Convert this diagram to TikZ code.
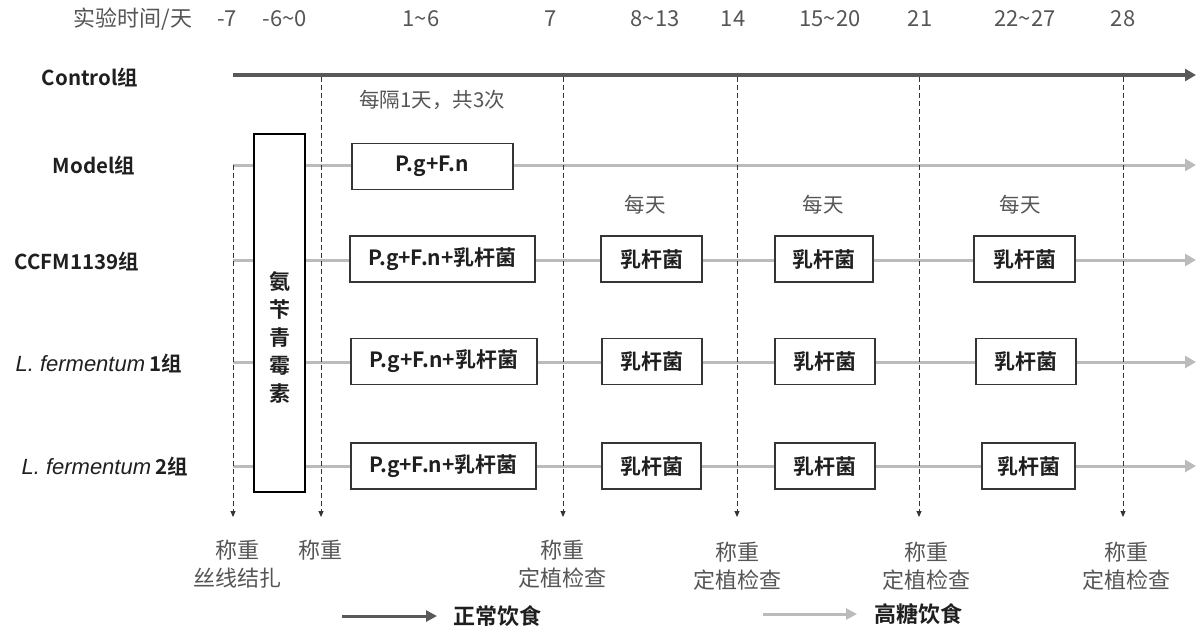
\documentclass[tikz,border=0pt]{standalone}
\usepackage{fontspec}
\setmainfont{Noto Sans CJK SC}[BoldFont={Noto Sans CJK SC Bold}]
\newfontfamily\latinit{Liberation Sans}
\usetikzlibrary{arrows.meta}
\definecolor{darkline}{HTML}{595959}
\definecolor{lightline}{HTML}{BBBBBB}
\definecolor{graytxt}{HTML}{555555}
\definecolor{ink}{HTML}{1F1F1F}
\begin{document}
\begin{tikzpicture}[x=1pt,y=-1pt,
  toplbl/.style={text=graytxt,font=\fontsize{22}{26}\selectfont,inner sep=0pt},
  rowlbl/.style={text=ink,font=\fontsize{20.5}{24}\selectfont\bfseries,inner sep=0pt},
  boxnode/.style={draw=ink!90,line width=1.2pt,fill=white,minimum height=46pt,inner sep=0pt,text=ink,font=\fontsize{21}{25}\selectfont\bfseries},
  notelbl/.style={text=graytxt,font=\fontsize{20.5}{24}\selectfont,inner sep=0pt},
  botlbl/.style={text=graytxt,font=\fontsize{22}{28}\selectfont,inner sep=0pt,align=center},
  legtxt/.style={text=ink,font=\fontsize{22}{26}\selectfont\bfseries,inner sep=0pt},
  darkarrow/.style={draw=darkline,line width=3.5pt,-{Triangle[length=11pt,width=12pt]}},
  lightarrow/.style={draw=lightline,line width=3pt,-{Triangle[length=11pt,width=12pt]}},
  dasharrow/.style={draw=ink!90,line width=0.9pt,dash pattern=on 5pt off 3pt,-{Triangle[length=6pt,width=5pt]}}
]
\useasboundingbox (0,0) rectangle (1198,633);

% top time labels
\node[toplbl] (t0) at (133,19) {实验时间/天};
\node[toplbl] (t1) at (227,19) {-7};
\node[toplbl] (t2) at (285,19) {-6\textasciitilde 0};
\node[toplbl] (t3) at (421,19) {1\textasciitilde 6};
\node[toplbl] (t4) at (551,19) {7};
\node[toplbl] (t5) at (655,19) {8\textasciitilde 13};
\node[toplbl] (t6) at (733,19) {14};
\node[toplbl] (t7) at (830,19) {15\textasciitilde 20};
\node[toplbl] (t8) at (920,19) {21};
\node[toplbl] (t9) at (1025,19) {22\textasciitilde 27};
\node[toplbl] (t10) at (1123,19) {28};

% row labels
\node[rowlbl] (rc) at (90,77) {Control组};
\node[rowlbl] (rm) at (94,165) {Model组};
\node[rowlbl] (rcc) at (77,261) {CCFM1139组};
\node[rowlbl] (rl1) at (99,363) {{\latinit\itshape\mdseries\fontsize{22}{26}\selectfont L. fermentum} 1组};
\node[rowlbl] (rl2) at (105,466) {{\latinit\itshape\mdseries\fontsize{22}{26}\selectfont L. fermentum} 2组};

% row line coordinates
\coordinate (cs) at (233,75);  \coordinate (ce) at (1196,75);
\coordinate (ms) at (233,165); \coordinate (me) at (1196,165);
\coordinate (c2s) at (233,260); \coordinate (c2e) at (1196,260);
\coordinate (l1s) at (233,362); \coordinate (l1e) at (1196,362);
\coordinate (l2s) at (233,466); \coordinate (l2e) at (1196,466);

\draw[lightarrow] (ms) -- (me);
\draw[lightarrow] (c2s) -- (c2e);
\draw[lightarrow] (l1s) -- (l1e);
\draw[lightarrow] (l2s) -- (l2e);
\draw[darkarrow] (cs) -- (ce);

% dashed timeline arrows
\coordinate (d1t) at (233,165); \coordinate (d1b) at (233,517);
\coordinate (d2t) at (321,77);  \coordinate (d2b) at (321,517);
\coordinate (d3t) at (563,77);  \coordinate (d3b) at (563,517);
\coordinate (d4t) at (737,77);  \coordinate (d4b) at (737,517);
\coordinate (d5t) at (919,77);  \coordinate (d5b) at (919,517);
\coordinate (d6t) at (1123,77); \coordinate (d6b) at (1123,517);
\foreach \i in {1,...,6} {\draw[dasharrow] (d\i t) -- (d\i b);}

% antibiotic box
\node[draw=black,line width=2pt,fill=white,minimum width=51pt,minimum height=358pt,inner sep=0pt] (abx) at (279.5,313) {};
\node[text=ink,font=\fontsize{21}{28}\selectfont\bfseries,align=center,inner sep=0pt] (abxt) at (280,337) {氨\\苄\\青\\霉\\素};

% notes
\node[notelbl] (n1) at (432,100) {每隔1天，共3次};
\node[notelbl] (n2) at (645,205) {每天};
\node[notelbl] (n3) at (823,205) {每天};
\node[notelbl] (n4) at (1020,205) {每天};

% boxes
\node[boxnode,minimum width=161pt] (bm) at (432.5,166.5) {P.g+F.n};
\node[boxnode,minimum width=185pt] (bc1) at (442.5,259) {P.g+F.n+乳杆菌};
\node[boxnode,minimum width=101pt] (bc2) at (651.5,259) {乳杆菌};
\node[boxnode,minimum width=98pt] (bc3) at (824,259) {乳杆菌};
\node[boxnode,minimum width=101pt] (bc4) at (1024.5,259) {乳杆菌};
\node[boxnode,minimum width=186pt] (bl11) at (444,361.5) {P.g+F.n+乳杆菌};
\node[boxnode,minimum width=100pt] (bl12) at (652,361.5) {乳杆菌};
\node[boxnode,minimum width=100pt] (bl13) at (825,361.5) {乳杆菌};
\node[boxnode,minimum width=100pt] (bl14) at (1026,361.5) {乳杆菌};
\node[boxnode,minimum width=185pt] (bl21) at (443.5,466) {P.g+F.n+乳杆菌};
\node[boxnode,minimum width=99pt] (bl22) at (651.5,466) {乳杆菌};
\node[boxnode,minimum width=100pt] (bl23) at (825,466) {乳杆菌};
\node[boxnode,minimum width=93pt] (bl24) at (1028.5,466) {乳杆菌};

% bottom labels
\node[botlbl] (w1) at (237,564) {称重\\丝线结扎};
\node[botlbl] (w2) at (320,550) {称重};
\node[botlbl] (w3) at (562,564) {称重\\定植检查};
\node[botlbl] (w4) at (737,566) {称重\\定植检查};
\node[botlbl] (w5) at (926,566) {称重\\定植检查};
\node[botlbl] (w6) at (1126,566) {称重\\定植检查};

% legend
\coordinate (la1) at (342,616); \coordinate (la2) at (437,616);
\draw[draw=darkline,line width=3pt,-{Triangle[length=11pt,width=11pt]}] (la1) -- (la2);
\node[legtxt] (lg1) at (497,616) {正常饮食};
\coordinate (lb1) at (763,614); \coordinate (lb2) at (857,614);
\draw[draw=lightline,line width=3pt,-{Triangle[length=11pt,width=11pt]}] (lb1) -- (lb2);
\node[legtxt] (lg2) at (918,614) {高糖饮食};
\end{tikzpicture}
\end{document}
